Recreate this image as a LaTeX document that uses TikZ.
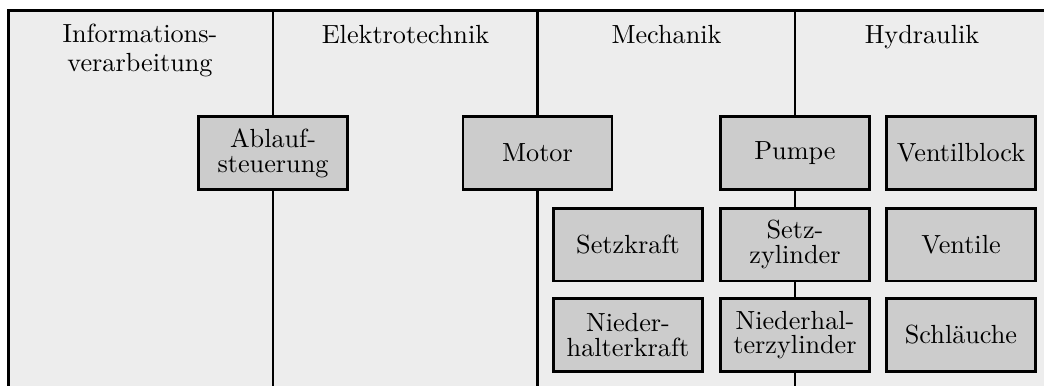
\documentclass[tikz,border=0pt]{standalone}
\definecolor{panelgray}{HTML}{EDEDED}
\definecolor{boxgray}{HTML}{CCCCCC}
\begin{document}
\begin{tikzpicture}[x=0.3814pt,y=-0.3814pt,
  sep/.style={line width=1.1pt},
  blk/.style={draw, line width=1.1pt, fill=boxgray, minimum width=56.8pt, minimum height=27.8pt,
    inner sep=0pt, align=center, font=\fontsize{10}{9.4}\selectfont},
  hdr/.style={anchor=base, inner sep=0pt, align=center, font=\fontsize{10}{10.7}\selectfont}]
\useasboundingbox (0,0) rectangle (1044,385);
\clip (0,0) rectangle (1044,385);
\fill[white] (0,0) rectangle (1044,385);
\draw[sep, fill=panelgray] (8.7,10.5) rectangle (1100,450);
% column separators
\coordinate (s1t) at (273,10.5);   \coordinate (s1b) at (273,400);
\coordinate (s2t) at (537.5,10.5); \coordinate (s2b) at (537.5,400);
\coordinate (s3t) at (795,10.5);   \coordinate (s3b) at (795,400);
\draw[sep] (s1t) -- (s1b);
\draw[sep] (s2t) -- (s2b);
\draw[sep] (s3t) -- (s3b);
% headers (base anchor = baseline of the last line)
\node[hdr] (h1) at (140,71) {Informations-\\verarbeitung};
\node[hdr] (h2) at (405.5,43) {Elektrotechnik};
\node[hdr] (h3) at (666.5,43) {Mechanik};
\node[hdr] (h4) at (922,43) {Hydraulik};
% boxes
\node[blk] (ablauf) at (273,153) {Ablauf-\\steuerung};
\node[blk] (motor) at (537.5,153) {Motor};
\node[blk] (pumpe) at (795,153) {Pumpe};
\node[blk] (ventilblock) at (961,153) {Ventilblock};
\node[blk] (setzkraft) at (628,244.5) {Setzkraft};
\node[blk] (setzzyl) at (795,244.5) {Setz-\\zylinder};
\node[blk] (ventile) at (961,244.5) {Ventile};
\node[blk] (nhkraft) at (628,335) {Nieder-\\halterkraft};
\node[blk] (nhzyl) at (795,335) {Niederhal-\\terzylinder};
\node[blk] (schlaeuche) at (961,335) {Schläuche};
\end{tikzpicture}
\end{document}
